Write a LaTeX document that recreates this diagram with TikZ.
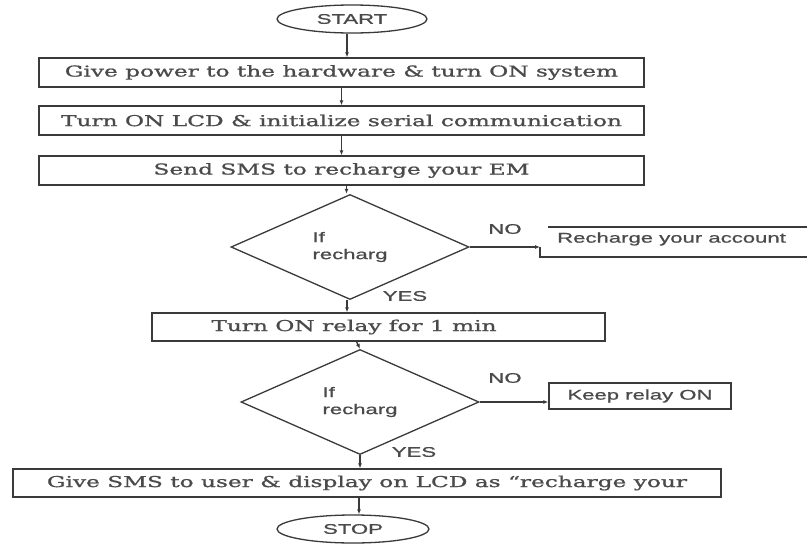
\documentclass[tikz,border=0pt]{standalone}
\usepackage{graphicx}
\usepackage{fontspec}
\setmainfont[FakeBold=0.9]{DejaVu Serif}
\newfontfamily\lblfont[FakeBold=0.7]{Liberation Sans}
\usetikzlibrary{shapes.geometric,arrows.meta}
\definecolor{linec}{HTML}{3A3A3A}
\definecolor{textc}{HTML}{4A4A4A}
\newcommand{\sxs}[1]{\scalebox{1.55}[1]{#1}}
\newcommand{\sxl}[1]{\scalebox{1.58}[1]{#1}}
\tikzset{
  serif/.style={font=\fontsize{15}{17}\selectfont},
  sans/.style={font=\lblfont\fontsize{14}{17}\selectfont},
  procbox/.style={draw=linec, line width=1.3pt, inner sep=0pt, text=textc, serif},
  decbox/.style={draw=linec, line width=1.3pt, diamond, inner sep=0pt, text=textc,
    minimum width=238pt, minimum height=80pt, align=left, sans},
  termbox/.style={draw=linec, line width=1.3pt, ellipse, inner sep=0pt, text=textc, sans},
  lbl/.style={text=textc, inner sep=0pt, sans},
  arr/.style={draw=linec, line width=1.3pt, -{Latex[length=5pt,width=4pt]}},
  ln/.style={draw=linec, line width=1.3pt}
}
\begin{document}
\begin{tikzpicture}[x=1pt,y=-1pt]
\useasboundingbox (0,0) rectangle (807,544);
\fill[white] (0,0) rectangle (807,544);

\node[termbox, minimum width=150pt, minimum height=28pt] (start) at (352,19) {\sxl{START}};
\node[procbox, minimum width=605pt, minimum height=29pt] (b1) at (341.5,72.5) {\sxs{Give power to the hardware \& turn ON system}};
\node[procbox, minimum width=605pt, minimum height=29pt] (b2) at (341.5,120.5) {\sxs{Turn ON LCD \& initialize serial communication}};
\node[procbox, minimum width=605pt, minimum height=29pt] (b3) at (341.5,170.5) {\sxs{Send SMS to recharge your EM}};
\node[decbox] (d1) at (350,247) {\sxl{If}\\\sxl{recharg}};
\node[lbl, anchor=west] (rc) at (557,239) {\sxl{Recharge your account}};
\coordinate (rcL) at (540,247);
\coordinate (rcTL) at (548,227);
\coordinate (rcTR) at (807,227);
\coordinate (rcBR) at (807,257);
\node[lbl] (no1) at (505,229) {\sxl{NO}};
\node[lbl] (yes1) at (405,296) {\sxl{YES}};
\node[procbox, minimum width=453pt, minimum height=28pt] (b4) at (378.5,327) {};
\node[text=textc, inner sep=0pt, serif] (b4t) at (354,327) {\sxs{Turn ON relay for 1 min}};
\node[decbox] (d2) at (360,402) {\sxl{If}\\\sxl{recharg}};
\node[lbl] (no2) at (505,378) {\sxl{NO}};
\node[procbox, minimum width=182pt, minimum height=26pt, sans] (kr) at (640,396) {\sxl{Keep relay ON}};
\node[lbl] (yes2) at (414,452) {\sxl{YES}};
\node[procbox, minimum width=708pt, minimum height=28pt] (b5) at (367,483) {\sxs{Give SMS to user \& display on LCD as “recharge your}};
\node[termbox, minimum width=152pt, minimum height=28pt] (stop) at (353,529) {\sxl{STOP}};

% connectors
\draw[arr] ([xshift=-5pt]start.south) -- ([xshift=-5pt]start.south |- b1.north);
\draw[arr] (b1.south) -- (b1.south |- b2.north);
\draw[arr] (b2.south) -- (b2.south |- b3.north);
\draw[arr] ([xshift=5pt]b3.south) -- ([xshift=5pt]b3.south |- d1.north);
\draw[arr] ([xshift=-3pt]d1.south) -- ([xshift=-3pt]d1.south |- b4.north);
\draw[arr] (d1.east) -- (rcL);
\draw[ln] (rcTL) -- (rcTR);
\draw[ln] (rcL) -- (rcL |- rcBR) -- (rcBR);
\draw[arr] ([xshift=-22pt]b4.south) -- (d2.north);
\draw[arr] (d2.east) -- (d2.east -| kr.west);
\draw[arr] (d2.south) -- (d2.south |- b5.north);
\draw[arr] ([xshift=-8pt]b5.south) -- ([xshift=-8pt]b5.south |- stop.north);
\end{tikzpicture}
\end{document}
